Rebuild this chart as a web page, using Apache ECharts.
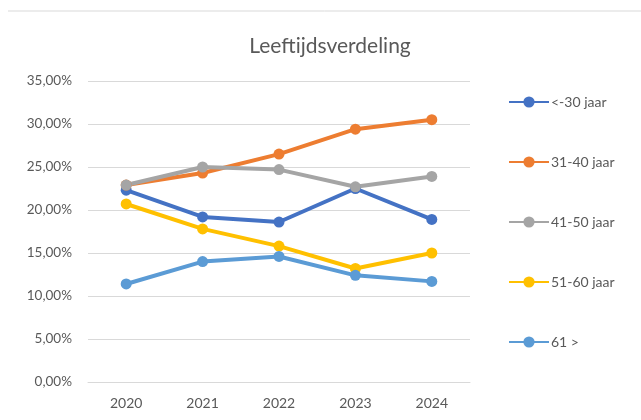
<!DOCTYPE html>
<html>
<head>
<meta charset="utf-8">
<script src="https://cdn.jsdelivr.net/npm/echarts@6/dist/echarts.min.js"></script>
<style>
  html, body { margin: 0; padding: 0; background: #fff; }
  #chart { width: 641px; height: 420px; }
</style>
</head>
<body>
<div id="chart"></div>
<script>
// data (percent)
var years = ["2020", "2021", "2022", "2023", "2024"];
var seriesNames = ["<-30 jaar", "31-40 jaar", "41-50 jaar", "51-60 jaar", "61 >"];
var under30 = [22.3, 19.2, 18.6, 22.5, 18.9];
var age31to40 = [22.9, 24.3, 26.5, 29.4, 30.5];
var age41to50 = [22.9, 25.0, 24.7, 22.7, 23.9];
var age51to60 = [20.7, 17.8, 15.8, 13.2, 15.0];
var over61 = [11.4, 14.0, 14.6, 12.4, 11.7];
var colors = ["#4472C4", "#ED7D31", "#A5A5A5", "#FFC000", "#5B9BD5"];

var chart = echarts.init(document.getElementById("chart"));
var font = "Lato, 'Open Sans', sans-serif";

function makeSeries(name, data, color) {
  return {
    name: name,
    type: "line",
    data: data,
    symbol: "circle",
    symbolSize: 11,
    lineStyle: { width: 4, color: color },
    itemStyle: { color: color },
    emphasis: { disabled: true }
  };
}

var option = {
  animation: false,
  textStyle: { fontFamily: font },
  title: {
    text: "Leeftijdsverdeling",
    left: 325,
    textAlign: "center",
    top: 31,
    textStyle: { fontSize: 21, fontWeight: "normal", color: "#595959", fontFamily: font }
  },
  legend: {
    orient: "vertical",
    left: 503,
    top: 90,
    itemWidth: 40,
    itemHeight: 14,
    itemGap: 46,
    textStyle: { fontSize: 14, color: "#595959", padding: [0, 0, 0, -3] },
    data: seriesNames
  },
  grid: { left: 88, right: 171, top: 81, bottom: 38 },
  xAxis: {
    type: "category",
    data: years,
    boundaryGap: true,
    axisLine: { show: true, lineStyle: { color: "#d9d9d9" } },
    axisTick: { show: false },
    axisLabel: { fontSize: 14, color: "#595959", margin: 14 }
  },
  yAxis: {
    type: "value",
    min: 0,
    max: 35,
    interval: 5,
    axisLine: { show: false },
    axisTick: { show: false },
    splitLine: { lineStyle: { color: "#d9d9d9", width: 1 } },
    axisLabel: {
      fontSize: 13.5,
      color: "#595959",
      margin: 16,
      formatter: function (v) { return v.toFixed(2).replace(".", ",") + "%"; }
    }
  },
  graphic: [{
    type: "line",
    shape: { x1: 8, y1: 11, x2: 641, y2: 11 },
    style: { stroke: "#d9d9d9", lineWidth: 1 }
  }],
  series: [
    makeSeries(seriesNames[0], under30, colors[0]),
    makeSeries(seriesNames[1], age31to40, colors[1]),
    makeSeries(seriesNames[2], age41to50, colors[2]),
    makeSeries(seriesNames[3], age51to60, colors[3]),
    makeSeries(seriesNames[4], over61, colors[4])
  ]
};
chart.setOption(option);
</script>
</body>
</html>
